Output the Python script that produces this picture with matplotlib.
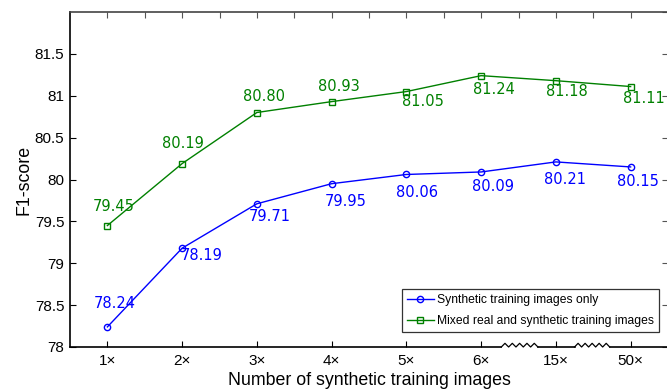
import numpy as np
import matplotlib.pyplot as plt
import matplotlib.transforms as mtransforms

# data
x_labels = ['1\u00d7', '2\u00d7', '3\u00d7', '4\u00d7', '5\u00d7', '6\u00d7', '15\u00d7', '50\u00d7']
synthetic = [78.24, 79.18, 79.71, 79.95, 80.06, 80.09, 80.21, 80.15]
synthetic_text = ['78.24', '78.19', '79.71', '79.95', '80.06', '80.09', '80.21', '80.15']
mixed = [79.45, 80.19, 80.80, 80.93, 81.05, 81.24, 81.18, 81.11]
mixed_text = ['79.45', '80.19', '80.80', '80.93', '81.05', '81.24', '81.18', '81.11']

# label offsets in pixels (dx, dy), dy positive = up
syn_off = [(7, 23), (20, -7), (13, -13), (14, -18), (11, -18), (12, -15), (9, -18), (7, -15)]
mix_off = [(6, 19), (1, 20), (7, 16), (7, 15), (17, -10), (13, -14), (11, -11), (13, -12)]

plt.rcParams['font.family'] = ['Liberation Sans', 'DejaVu Sans']

fig = plt.figure(figsize=(6.67, 3.91), dpi=100)
ax = fig.add_axes([70/667, 1 - 347/391, 598/667, 335/391])

xs = np.arange(1, len(x_labels) + 1)
l1, = ax.plot(xs, synthetic, color='blue', lw=1.0, marker='o', ms=4.5,
              mfc='none', mew=1.0, label='Synthetic training images only')
l2, = ax.plot(xs, mixed, color='green', lw=1.0, marker='s', ms=4,
              mfc='none', mew=1.0, label='Mixed real and synthetic training images')

for xv, yv, t, (dx, dy) in zip(xs, synthetic, synthetic_text, syn_off):
    ax.annotate(t, (xv, yv), xytext=(dx, dy), textcoords='offset pixels',
                ha='center', va='center', color='blue', fontsize=10.5,
                family='DejaVu Sans')
for xv, yv, t, (dx, dy) in zip(xs, mixed, mixed_text, mix_off):
    ax.annotate(t, (xv, yv), xytext=(dx, dy), textcoords='offset pixels',
                ha='center', va='center', color='green', fontsize=10.5,
                family='DejaVu Sans')

ax.set_xlim(0.5, 8.5)
ax.set_ylim(78, 82)
ax.set_xticks(xs)
ax.set_xticklabels(x_labels)
ax.set_yticks([78, 78.5, 79, 79.5, 80, 80.5, 81, 81.5])
ax.set_yticklabels(['78', '78.5', '79', '79.5', '80', '80.5', '81', '81.5'])
ax.tick_params(direction='in', length=4, labelsize=11, width=0.8, colors='black')
ax.tick_params(axis='x', pad=5)
ax.tick_params(axis='y', pad=4)

# mirrored ticks on top and right
top = ax.secondary_xaxis('top')
top.set_xticks(np.arange(1, 8.01, 0.5))
top.tick_params(direction='in', length=4, labeltop=False, color='#555555')
top.spines['top'].set_visible(False)
right = ax.secondary_yaxis('right')
right.set_yticks(np.arange(78, 82.01, 0.5))
right.tick_params(direction='in', length=4, labelright=False, color='#555555')

ax.spines['top'].set_color('#444444')
ax.spines['top'].set_linewidth(1.2)
ax.spines['left'].set_linewidth(1.2)
ax.spines['right'].set_visible(False)
ax.spines['bottom'].set_visible(False)

# bottom axis line with break marks
trans = mtransforms.blended_transform_factory(ax.transData, ax.transAxes)
amp = 0.011
segs = [(0.5, 6.27), (6.76, 7.25), (7.72, 8.5)]
for a, b in segs:
    ax.plot([a, b], [0, 0], color='black', lw=1.2, transform=trans, clip_on=False)
for a, b in [(6.27, 6.76), (7.25, 7.72)]:
    zx = np.linspace(a, b, 11)
    zy = np.array([0, amp] * 5 + [0])
    ax.plot(zx, zy, color='black', lw=0.9, transform=trans, clip_on=False)

ax.set_xlabel('Number of synthetic training images', fontsize=12.8, labelpad=3)
ax.set_ylabel('F1-score', fontsize=12.8, labelpad=2)

leg = ax.legend(handles=[l1, l2], loc='lower right', bbox_to_anchor=(0.985, 0.045),
                fontsize=8.7, frameon=True, fancybox=False, edgecolor='black',
                handlelength=2.2, handletextpad=0.3, borderpad=0.4,
                labelspacing=0.75, borderaxespad=0)
leg.get_frame().set_linewidth(0.9)

fig.savefig('out.png', dpi=100)
